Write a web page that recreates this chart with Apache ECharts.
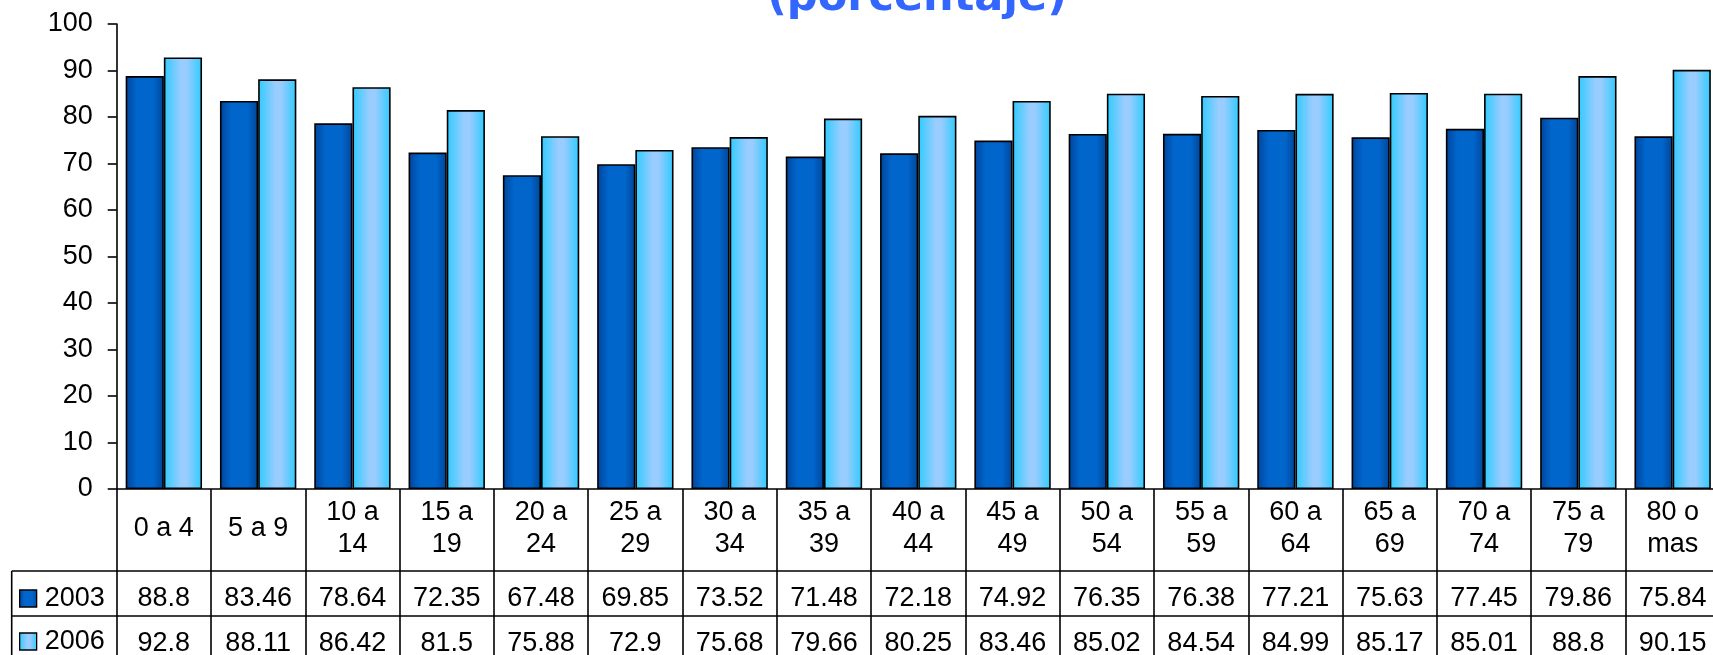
<!DOCTYPE html>
<html><head><meta charset="utf-8">
<script src="https://cdn.jsdelivr.net/npm/echarts@6/dist/echarts.min.js"></script>
<style>html,body{margin:0;padding:0;background:#fff}#c{width:1713px;height:655px}</style>
</head><body><div id="c"></div>
<script>
// ---- data ----
const categories = ['0 a 4','5 a 9','10 a\n14','15 a\n19','20 a\n24','25 a\n29','30 a\n34','35 a\n39','40 a\n44','45 a\n49','50 a\n54','55 a\n59','60 a\n64','65 a\n69','70 a\n74','75 a\n79','80 o\nmas'];
const values2003 = [88.8, 83.46, 78.64, 72.35, 67.48, 69.85, 73.52, 71.48, 72.18, 74.92, 76.35, 76.38, 77.21, 75.63, 77.45, 79.86, 75.84];
const values2006 = [92.8, 88.11, 86.42, 81.5, 75.88, 72.9, 75.68, 79.66, 80.25, 83.46, 85.02, 84.54, 84.99, 85.17, 85.01, 88.8, 90.15];
const seriesNames = ['2003', '2006'];
const titleText = '(porcentaje)';
const yMin = 0, yMax = 100, yStep = 10;

// ---- layout / style ----
const FONT = '"Liberation Sans", Arial, sans-serif';
const GRID_LEFT = 116.7, GRID_TOP = 24, GRID_H = 465, CAT_W = 94.3;
const GRID_BOTTOM = GRID_TOP + GRID_H;
const HEADER_H = 82, ROW_H = 45;
const TABLE_LEFT = 11.7;
const LINE = '#000', LW = 1.6;
const FS = 27;

const chart = echarts.init(document.getElementById('c'), null, {renderer: 'canvas'});

const darkGrad = new echarts.graphic.LinearGradient(0, 0, 1, 0, [
  {offset: 0, color: '#00449a'},
  {offset: 0.3, color: '#0066cc'},
  {offset: 0.72, color: '#0066cc'},
  {offset: 1, color: '#004597'}
]);
const lightGrad = new echarts.graphic.LinearGradient(0, 0, 1, 0, [
  {offset: 0, color: '#2ecbff'},
  {offset: 0.45, color: '#99ccff'},
  {offset: 0.6, color: '#99ccff'},
  {offset: 1, color: '#2ecbff'}
]);

const txt = {fontFamily: FONT, fontSize: FS, color: '#000'};

function rowAxis(values, offset) {
  return {
    type: 'category', data: categories, position: 'bottom', offset: offset,
    axisLine: {show: true, lineStyle: {color: LINE, width: LW}},
    axisTick: {show: false},
    splitLine: {show: false},
    axisLabel: Object.assign({
      interval: 0, margin: 28, verticalAlign: 'middle',
      formatter: (v, i) => String(values[i])
    }, txt)
  };
}

function legendFor(name, top) {
  return {
    orient: 'vertical', left: 19, top: top, padding: 0,
    itemWidth: 17, itemHeight: 17, icon: 'rect',
    itemStyle: {borderColor: '#000', borderWidth: 1.3},
    textStyle: Object.assign({lineHeight: 26, padding: [0, 0, 0, 3]}, txt),
    selectedMode: false,
    data: [name]
  };
}

const row1Y = GRID_BOTTOM + HEADER_H;
const row2Y = row1Y + ROW_H;

chart.setOption({
  animation: false,
  backgroundColor: '#fff',
  grid: {left: GRID_LEFT, top: GRID_TOP, height: GRID_H, width: CAT_W * categories.length,
         containLabel: false, outerBoundsMode: 'none'},
  legend: [legendFor(seriesNames[0], 585), legendFor(seriesNames[1], 628)],
  xAxis: [
    {
      type: 'category', data: categories, position: 'bottom',
      axisLine: {show: true, lineStyle: {color: LINE, width: LW}},
      axisTick: {show: true, alignWithLabel: false, inside: false, length: 200, lineStyle: {color: LINE, width: LW}},
      splitLine: {show: false},
      axisLabel: Object.assign({interval: 0, margin: 40, verticalAlign: 'middle', lineHeight: 32}, txt)
    },
    rowAxis(values2003, HEADER_H),
    rowAxis(values2006, HEADER_H + ROW_H)
  ],
  yAxis: {
    type: 'value', min: yMin, max: yMax, interval: yStep,
    axisLine: {show: true, lineStyle: {color: LINE, width: LW}},
    axisTick: {show: true, length: 9, lineStyle: {color: LINE, width: LW}},
    splitLine: {show: false},
    axisLabel: Object.assign({margin: 24}, txt)
  },
  series: [
    {name: seriesNames[0], type: 'bar', data: values2003, xAxisIndex: 0,
     barGap: '0%', barCategoryGap: '19%',
     itemStyle: {color: darkGrad, borderColor: '#000', borderWidth: 1.6}},
    {name: seriesNames[1], type: 'bar', data: values2006, xAxisIndex: 0,
     barGap: '0%', barCategoryGap: '19%',
     itemStyle: {color: lightGrad, borderColor: '#000', borderWidth: 1.6}}
  ],
  graphic: [
    {type: 'text', x: 917, y: -1, silent: true,
     style: {text: titleText, fontFamily: 'DejaVu Sans', fontWeight: 'bold', fontSize: 43, fill: '#3366ff',
             align: 'center', verticalAlign: 'middle'}},
    {type: 'line', silent: true, shape: {x1: TABLE_LEFT, y1: row1Y, x2: GRID_LEFT, y2: row1Y},
     style: {stroke: LINE, lineWidth: LW}},
    {type: 'line', silent: true, shape: {x1: TABLE_LEFT, y1: row2Y, x2: GRID_LEFT, y2: row2Y},
     style: {stroke: LINE, lineWidth: LW}},
    {type: 'line', silent: true, shape: {x1: TABLE_LEFT, y1: row1Y, x2: TABLE_LEFT, y2: row2Y + 100},
     style: {stroke: LINE, lineWidth: LW}}
  ]
});
</script>
</body></html>
